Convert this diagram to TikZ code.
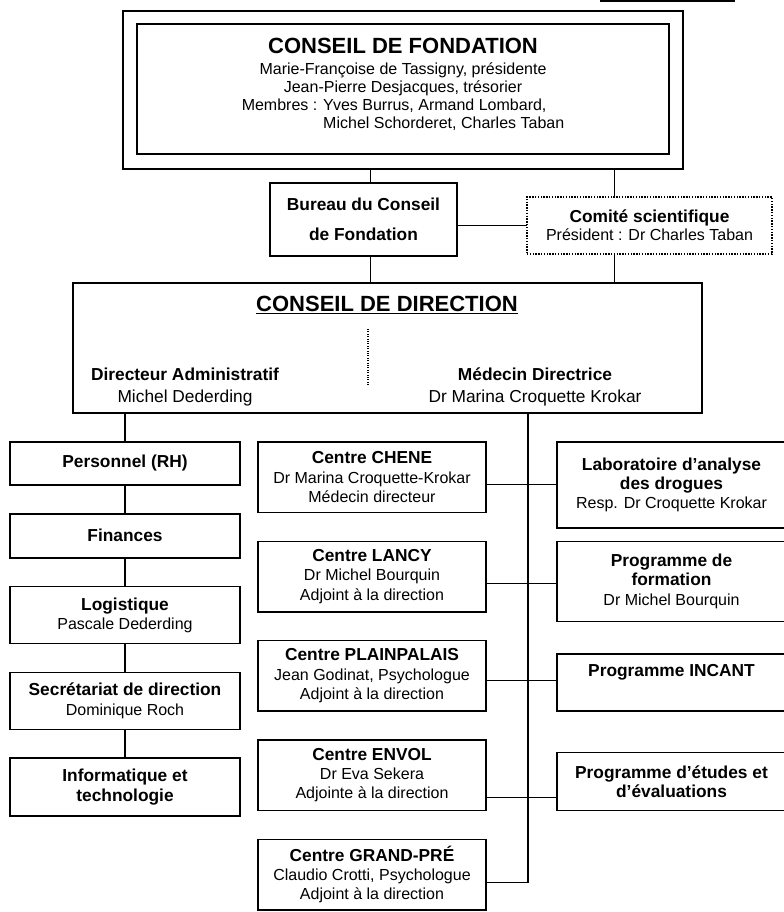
\documentclass[tikz,border=0pt]{standalone}
\usepackage{fontspec}
\setmainfont{Liberation Sans}
\usetikzlibrary{graphs, positioning}

\newcommand{\titre}[1]{{\fontsize{16.5}{19}\selectfont\bfseries #1}}
\newcommand{\chef}[1]{{\fontsize{13}{15}\selectfont\bfseries #1}}

\begin{document}
\begin{tikzpicture}[x=0.75pt, y=-0.75pt, line width=0.8pt, node distance=21.6pt,
		cadre/.style={draw, line width=1.1pt, outer sep=0pt, inner sep=2pt, align=center, font=\fontsize{12}{14.5}\selectfont},
		gauche/.style={cadre, minimum width=172.5pt},
		centre/.style={cadre, minimum width=171pt, minimum height=52.9pt},
		droite/.style={cadre, minimum width=171.75pt}]
		\useasboundingbox (0,0) rectangle (783,912);
		\draw[line width=1.8pt] (600,1) -- (735,1);

		% fondation et bureau
		\node[cadre, minimum width=420pt, minimum height=118.5pt] (fondcadre) at (403,90) {};
		\node[cadre, minimum width=399pt, minimum height=97.5pt, font=\fontsize{12}{13.5}\selectfont] (fondation) at (403,89)
			{\titre{CONSEIL DE FONDATION}\\[2.25pt] Marie-Françoise de Tassigny, présidente\\ Jean-Pierre Desjacques, trésorier\\
			\begin{tabular}[t]{@{}l@{ }l@{}}Membres :&Yves Burrus, Armand Lombard,\\ &Michel Schorderet, Charles Taban\\[5pt]\end{tabular}};
		\node[cadre, font=\fontsize{13}{15}\selectfont\bfseries, minimum width=140.25pt, minimum height=54.75pt] (bureau) at (363.5,219.5)
			{Bureau du Conseil\\[7.5pt]de Fondation};
		\node[cadre, densely dotted, font=\fontsize{12}{13.5}\selectfont, minimum width=183.75pt, minimum height=42.75pt] (comite) at (649.5,225.5)
			{\chef{Comité scientifique}\\ Président : Dr Charles Taban};

		% conseil de direction
		\node[cadre, minimum width=471.75pt, minimum height=97.5pt] (direction) at (387.5,348) {};
		\node (cdtitre) at (387,305) {\titre{\underline{CONSEIL DE DIRECTION}}};
		\node[align=center, font=\fontsize{13}{16}\selectfont] (admin) at (185,387) {\chef{Directeur Administratif}\\ Michel Dederding};
		\node[align=center, font=\fontsize{13}{16}\selectfont] (medecin) at (535,387) {\chef{Médecin Directrice}\\ Dr Marina Croquette Krokar};
		\draw[densely dotted] (368,329) -- (368,385);

		% administration
		\node[gauche, minimum height=32.25pt, anchor=north west] (personnel) at (10,442) {\chef{Personnel (RH)}};
		\node[gauche, minimum height=33pt, below=of personnel]      (finances)     {\chef{Finances}};
		\node[gauche, minimum height=42.75pt, below=of finances]    (logistique)   {\chef{Logistique}\\ Pascale Dederding};
		\node[gauche, minimum height=42.75pt, below=of logistique]  (secretariat)  {\chef{Secrétariat de direction}\\ Dominique Roch};
		\node[gauche, minimum height=43.5pt, below=of secretariat]  (informatique) {\chef{Informatique et}\\ \chef{technologie}};

		% centres
		\node[centre, anchor=north west] (chene) at (258,442) {\chef{Centre CHENE}\\ Dr Marina Croquette-Krokar\\ Médecin directeur};
		\node[centre, below=of chene]       (lancy)       {\chef{Centre LANCY}\\ Dr Michel Bourquin\\ Adjoint à la direction};
		\node[centre, below=of lancy]       (plainpalais) {\chef{Centre PLAINPALAIS}\\ Jean Godinat, Psychologue\\ Adjoint à la direction};
		\node[centre, below=of plainpalais] (envol)       {\chef{Centre ENVOL}\\ Dr Eva Sekera\\ Adjointe à la direction};
		\node[centre, below=of envol]       (grandpre)    {\chef{Centre GRAND-PRÉ}\\ Claudio Crotti, Psychologue\\ Adjoint à la direction};

		% programmes
		\node[droite, minimum height=64.5pt, right=53.25pt of chene.north east, anchor=north west] (labo)
			{\chef{Laboratoire d’analyse}\\ \chef{des drogues}\\ Resp. Dr Croquette Krokar};
		\node[droite, minimum height=60pt, right=53.25pt of lancy.north east, anchor=north west] (formation)
			{\chef{Programme de}\\ \chef{formation}\\ Dr Michel Bourquin};
		\node[droite, minimum height=42.75pt, right=53.25pt of plainpalais.south east, anchor=south west] (incant)
			{\chef{Programme INCANT}\\ \strut};
		\node[droite, minimum height=43.5pt, right=53.25pt of envol.south east, anchor=south west] (etudes)
			{\chef{Programme d’études et}\\ \chef{d’évaluations}};

		% liaisons
		\draw ([xshift=4.9pt]bureau.north) -- ([xshift=4.9pt]bureau.north |- fondcadre.south);
		\draw ([xshift=4.9pt]bureau.south) -- ([xshift=4.9pt]bureau.south |- direction.north);
		\draw ([xshift=-26.6pt]comite.north) -- ([xshift=-26.6pt]comite.north |- fondcadre.south);
		\draw ([xshift=-26.6pt]comite.south) -- ([xshift=-26.6pt]comite.south |- direction.north);
		\draw (bureau.east |- comite.west) -- (comite.west);

		\draw (direction.south -| personnel.north) -- (personnel.north);
		\graph{ (personnel) -- (finances) -- (logistique) -- (secretariat) -- (informatique) };

		\coordinate (tronc) at (528,0);
		\draw (tronc |- direction.south) |- ([yshift=-5.6pt]grandpre.east);
		\draw ([yshift=-5.6pt]chene.east) -- ([yshift=-5.6pt]chene.east -| labo.west);
		\draw ([yshift=-4.9pt]lancy.east) -- ([yshift=-4.9pt]lancy.east -| formation.west);
		\draw ([yshift=-3.4pt]plainpalais.east) -- ([yshift=-3.4pt]plainpalais.east -| incant.west);
		\draw ([yshift=-16.5pt]envol.east) -- ([yshift=-16.5pt]envol.east -| etudes.west);
	\end{tikzpicture}
\end{document}
